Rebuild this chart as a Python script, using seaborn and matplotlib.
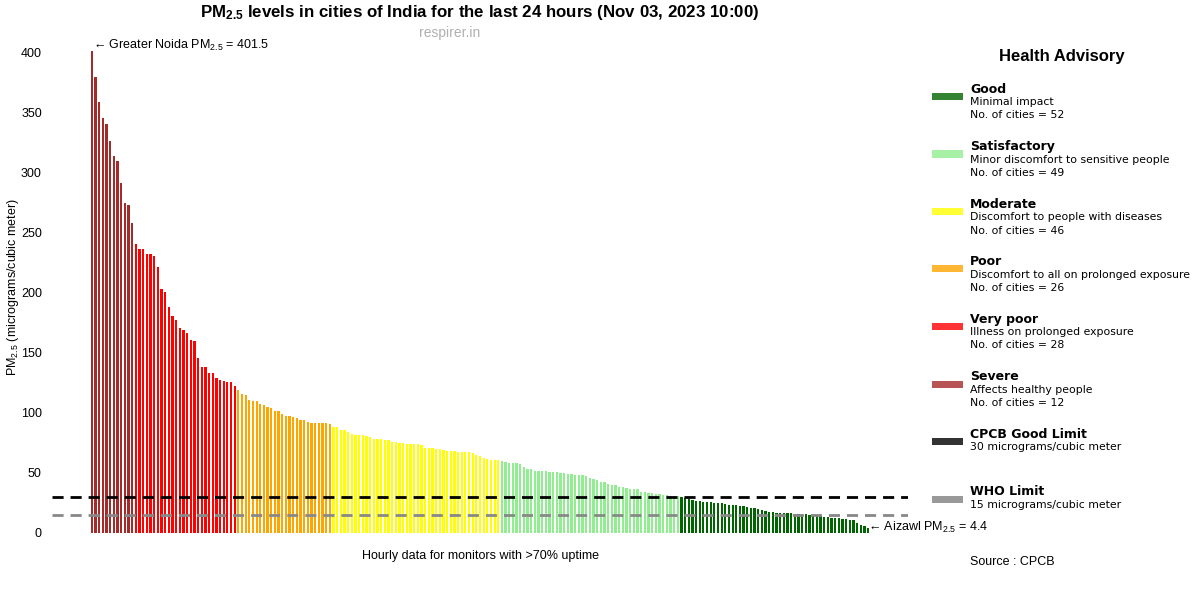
import matplotlib
matplotlib.use("Agg")
import matplotlib.pyplot as plt
from matplotlib.patches import Rectangle
import seaborn as sns
import pandas as pd

# PM2.5 values per category, sorted high to low
severe = [401.5, 380, 359, 345.5, 340.5, 327, 314, 310, 292, 275, 273, 258]
very_poor = [241, 237, 237, 232.5, 232.5, 231, 222, 203, 201, 188, 181, 177.5, 170.5, 169,
             167, 161, 160, 146, 138.5, 138, 133.5, 133.5, 129, 127.5, 127, 126, 126, 122.5]
poor = [119.2, 115.8, 114.7, 110.6, 110.3, 109.7, 107.5, 106.7, 105, 104.4, 101.9, 101.9, 99.4,
        97.2, 97.2, 96.4, 96, 94.2, 94, 92.5, 92, 92, 91.7, 91.4, 91.4, 90.6]
moderate = [88.6, 88, 86.1, 86, 83.9, 82.2, 81.7, 81.7, 81.4, 81.1, 80.3, 78.3, 78.3, 78, 77.8,
            77.7, 76, 75.6, 74.7, 74.7, 74.4, 74.4, 74.4, 73.9, 73, 71, 70.8, 70.5, 70, 69.7,
            69.2, 68.3, 68, 68, 67.8, 67.8, 67.5, 67.2, 66.4, 65.3, 64.2, 62.5, 61.8, 61.2, 60.9, 60.7]
satisfactory = [59.8, 59.4, 58.6, 58, 58, 57.2, 55.3, 53.6, 53, 52, 52, 51.7, 51.7, 51.1, 50.8,
                50.8, 50.3, 49.7, 49.4, 49.4, 48.6, 48.3, 48, 47.5, 45.8, 44.7, 44.2, 42.8, 42.8,
                41.1, 40.3, 40, 38.3, 38.1, 37.2, 37, 36.8, 36.5, 34, 33.8, 33.2, 33, 32.8, 32.5,
                32, 31.6, 31.2, 30.9, 30.6]
good = [30, 29.5, 28.6, 27.5, 26.7, 26.4, 25.8, 25.6, 25.6, 25.2, 25, 24.7, 23.8, 23.6, 23.2,
        23, 22.8, 22.8, 21.9, 21.2, 20.8, 20, 19.2, 18.5, 17.8, 17.2, 17, 16.8, 16.7, 16.5,
        16.3, 16.1, 16, 15.8, 15.6, 15.4, 15.2, 15, 14.2, 13.6, 13.2, 12.8, 12.5, 12.2, 12,
        11.5, 11, 10.5, 8.5, 7, 5.8, 4.4]

categories = ["Severe", "Very poor", "Poor", "Moderate", "Satisfactory", "Good"]
colors = ["brown", "red", "orange", "yellow", "lightgreen", "darkgreen"]
descriptions = ["Affects healthy people", "Illness on prolonged exposure",
                "Discomfort to all on prolonged exposure", "Discomfort to people with diseases",
                "Minor discomfort to sensitive people", "Minimal impact"]
series = [severe, very_poor, poor, moderate, satisfactory, good]

cpcb_limit = 30
who_limit = 15

rows = []
for cat, vals in zip(categories, series):
    for v in vals:
        rows.append({"category": cat, "pm25": v})
df = pd.DataFrame(rows)
df["rank"] = range(len(df))

sns.set_style("white")
plt.rcParams["font.family"] = ["Liberation Sans", "DejaVu Sans"]
plt.rcParams["mathtext.fontset"] = "custom"
plt.rcParams["mathtext.rm"] = "Liberation Sans"
plt.rcParams["mathtext.it"] = "Liberation Sans:italic"
plt.rcParams["mathtext.bf"] = "Liberation Sans:bold"
plt.rcParams["text.color"] = "black"
plt.rcParams["axes.labelcolor"] = "black"
plt.rcParams["ytick.color"] = "black"

fig = plt.figure(figsize=(12, 6), dpi=100)
ax = fig.add_axes([0.043, 0.1117, 0.714, 0.82])

sns.barplot(data=df, x="rank", y="pm25", hue="category", palette=dict(zip(categories, colors)),
            dodge=False, width=0.62, linewidth=0, saturation=1, legend=False, ax=ax)

ax.axhline(cpcb_limit, color="black", linestyle="--", linewidth=2, dashes=(4, 2.5))
ax.axhline(who_limit, color="#888888", linestyle="--", linewidth=2, dashes=(4, 2.5))

ax.set_xlim(-11, 223)
ax.set_ylim(0, 410)
ax.set_xticks([])
ax.set_yticks(range(0, 401, 50))
ax.tick_params(axis="y", labelsize=9, length=0, pad=7)
sns.despine(ax=ax, left=True, bottom=True)

ax.set_xlabel("Hourly data for monitors with >70% uptime", fontsize=9, labelpad=12)
ax.set_ylabel("PM$_{2.5}$ (micrograms/cubic meter)", fontsize=9)
ax.yaxis.set_label_coords(-0.036, 0.5)

fig.text(480 / 1200, 1 - 12 / 600,
         "PM$_{\\mathbf{2.5}}$ levels in cities of India for the last 24 hours (Nov 03, 2023 10:00)",
         fontsize=12.2, fontweight="bold", ha="center", va="center")
fig.text(450 / 1200, 1 - 33 / 600, "respirer.in", color="#b0b0b0", fontsize=10, ha="center", va="center")

n = len(df)
ax.text(0.3, 406.5, "\u2190 Greater Noida PM$_{2.5}$ = " + str(severe[0]),
        fontsize=9, ha="left", va="center")
ax.text(n - 1.1, good[-1], "\u2190 Aizawl PM$_{2.5}$ = " + str(good[-1]),
        fontsize=9, ha="left", va="center")

# legend drawn by hand on the right
fig.text(1062 / 1200, 1 - 56 / 600, "Health Advisory", fontsize=12, fontweight="bold",
         ha="center", va="center")
entries = []
for cat, col, desc, vals in zip(categories[::-1], colors[::-1], descriptions[::-1], series[::-1]):
    entries.append((col, cat, [desc, "No. of cities = " + str(len(vals))]))
entries.append(("black", "CPCB Good Limit", ["30 micrograms/cubic meter"]))
entries.append(("grey", "WHO Limit", ["15 micrograms/cubic meter"]))

for i, (col, name, lines) in enumerate(entries):
    py = 96.5 + i * 57.5
    fig.patches.append(Rectangle((932 / 1200, 1 - (py + 3.5) / 600), 31 / 1200, 7 / 600,
                                 transform=fig.transFigure, facecolor=col, alpha=0.8,
                                 edgecolor="none"))
    fig.text(970 / 1200, 1 - (py - 7.4) / 600, name, fontsize=9, fontweight="bold",
             family="DejaVu Sans", ha="left", va="center")
    for j, line in enumerate(lines):
        fig.text(970 / 1200, 1 - (py + 5.6 + j * 13.4) / 600, line, fontsize=7.8,
                 family="DejaVu Sans", ha="left", va="center")

fig.text(970 / 1200, 1 - 562 / 600, "Source : CPCB", fontsize=9, ha="left", va="center")

fig.savefig("out.png", dpi=100)
